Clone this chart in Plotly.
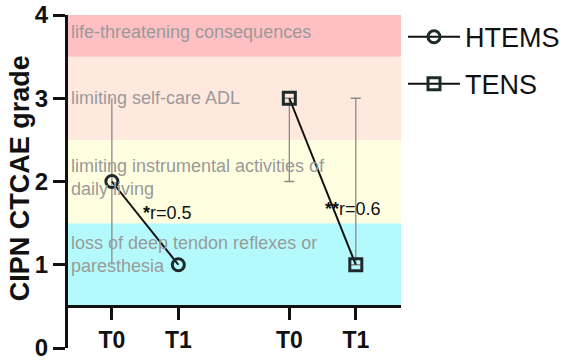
import plotly.graph_objects as go

# ---- data ----
timepoints = ["T0", "T1"]
htems_x = [1.0, 2.0]
tens_x = [3.67, 4.67]
htems_median = [2, 1]
htems_low = [1, 1]
htems_high = [3, 1]
tens_median = [3, 1]
tens_low = [2, 1]
tens_high = [3, 3]

grade_levels = [1, 2, 3, 4]
grade_labels = [
    "loss of deep tendon reflexes or<br>paresthesia",
    "limiting instrumental activities of<br>daily living",
    "limiting self-care ADL",
    "life-threatening consequences",
]
band_colors = ["#B4FAFD", "#FFFEE0", "#FFE9DF", "#FFC0C3"]
label_y = [1.12, 2.05, 3.0, 3.8]

r_text = ["<b>*</b>r=0.5", "<b>**</b>r=0.6"]
r_pos = [(1.83, 1.62), (4.63, 1.67)]

FONT = "Liberation Sans, Arial, sans-serif"

fig = go.Figure()

# background bands
for g, col in zip(grade_levels, band_colors):
    fig.add_shape(type="rect", xref="x domain", yref="y", x0=0, x1=1,
                  y0=g - 0.5, y1=min(g + 0.5, 4), fillcolor=col,
                  line=dict(width=0), layer="below")

for txt, yy in zip(grade_labels, label_y):
    fig.add_annotation(x=0, xref="x domain", y=yy, yref="y", text=txt,
                       showarrow=False, xanchor="left", yanchor="middle",
                       align="left", xshift=1,
                       font=dict(family=FONT, size=18, color="#9a9a9a"))

def add_group(name, xs, med, lo, hi, symbol, cap):
    fig.add_trace(go.Scatter(
        x=xs, y=med, name=name, mode="lines+markers", legendgroup=name,
        line=dict(color="#111111", width=2),
        marker=dict(symbol=symbol, size=12, color="#1e2a2a",
                    line=dict(width=3, color="#1e2a2a")),
        error_y=dict(type="data", symmetric=False,
                     array=[h - m for h, m in zip(hi, med)],
                     arrayminus=[m - l for m, l in zip(med, lo)],
                     color="#8a8a8a", thickness=1.3, width=cap),
    ))

add_group("HTEMS", htems_x, htems_median, htems_low, htems_high, "circle-open", 0)
add_group("TENS", tens_x, tens_median, tens_low, tens_high, "square-open", 5)

for t, (xx, yy) in zip(r_text, r_pos):
    fig.add_annotation(x=xx, y=yy, text=t, showarrow=False,
                       font=dict(family=FONT, size=18, color="#111111"))

# y-axis title
fig.add_annotation(x=-0.144, xref="paper", y=0.51, yref="paper",
                   text="<b>CIPN CTCAE grade</b>", textangle=-90,
                   showarrow=False, xanchor="center", yanchor="middle",
                   font=dict(family=FONT, size=27, color="#111111"))

fig.update_layout(
    width=567, height=362,
    margin=dict(l=68, r=166, t=15, b=14, autoexpand=False),
    paper_bgcolor="white", plot_bgcolor="white",
    font=dict(family=FONT, color="#111111"),
    showlegend=True,
    legend=dict(x=1.006, y=1.007, xanchor="left", yanchor="top",
                traceorder="grouped", tracegroupgap=9, itemwidth=52,
                font=dict(family=FONT, size=27, color="#111111"),
                bgcolor="rgba(0,0,0,0)"),
    xaxis=dict(range=[0.34, 5.35], anchor="free", position=0.125,
               automargin=False,
               showline=True, linewidth=3, linecolor="#111111",
               ticks="outside", ticklen=12, tickwidth=3, tickcolor="#111111",
               tickvals=htems_x + tens_x, ticktext=timepoints + timepoints,
               tickfont=dict(family=FONT, size=23, color="#111111", weight=700),
               showgrid=False, zeroline=False),
    yaxis=dict(range=[0, 4], automargin=False, ticklabeloverflow="allow",
               showline=True, linewidth=3, linecolor="#111111",
               ticks="outside", ticklen=12, tickwidth=3, tickcolor="#111111",
               tickvals=[0, 1, 2, 3, 4],
               tickfont=dict(family=FONT, size=24, color="#111111", weight=700),
               showgrid=False, zeroline=False),
)

fig.write_html("out.html", config={"displayModeBar": False},
               post_script="document.body.style.margin='0';"
                           "document.body.style.overflow='hidden';")
